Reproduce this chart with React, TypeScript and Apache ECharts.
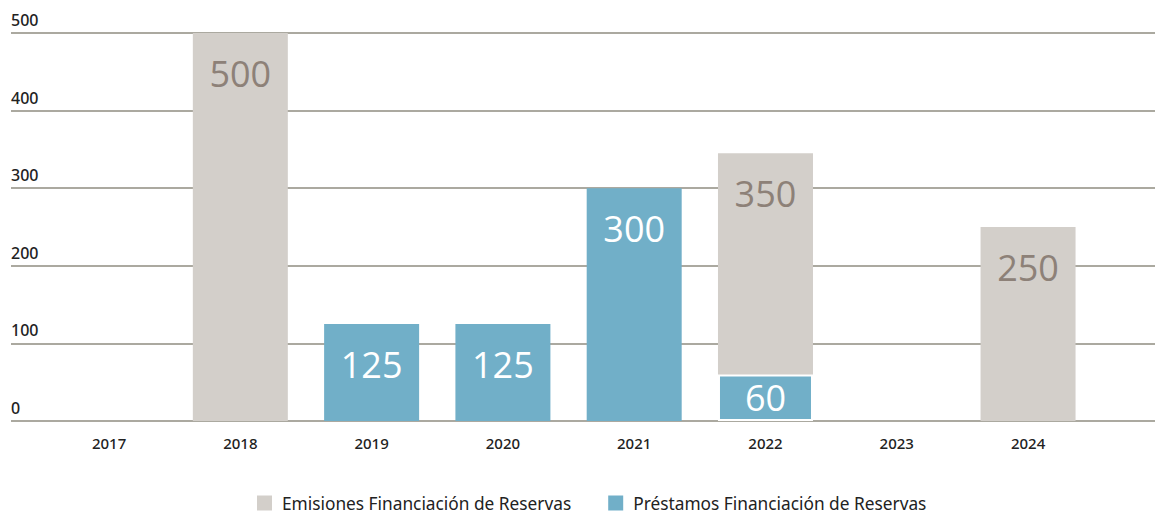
import React, { useEffect, useRef } from "react";
import * as echarts from "echarts";

const years = ["2017", "2018", "2019", "2020", "2021", "2022", "2023", "2024"];
const emisiones = [null, 500, null, null, null, 285, null, 250];
const emisionesLabels = ["", "500", "", "", "", "350", "", "250"];
const prestamos = [null, null, 125, 125, 300, 60, null, null];
const Y_MIN = 0;
const Y_MAX = 500;
const Y_STEP = 100;

const GRAY = "#d3cfca";
const BLUE = "#71afc8";
const GRID = "#8f8d80";

export default function App() {
  const ref = useRef<HTMLDivElement>(null);
  useEffect(() => {
    const chart = echarts.init(ref.current!, null, { renderer: "svg" });
    const labelFont = { fontFamily: "Open Sans", fontSize: 36, fontWeight: "normal" as const };
    chart.setOption({
      animation: false,
      grid: [
        { left: 11, right: 0, top: 33, height: 388 },
        { left: 43.4, right: 61.3, top: 33, height: 388 },
      ],
      xAxis: [
        { type: "category", gridIndex: 0, data: years, show: false },
        {
          type: "category",
          gridIndex: 1,
          data: years,
          axisLine: { show: false },
          axisTick: { show: false },
          axisLabel: {
            color: "#222",
            fontFamily: "Noto Sans",
            fontSize: 15,
            fontWeight: 500,
            margin: 14,
          },
        },
      ],
      yAxis: [
        {
          type: "value",
          gridIndex: 0,
          min: Y_MIN,
          max: Y_MAX,
          interval: Y_STEP,
          axisLine: { show: false },
          axisTick: { show: false },
          splitLine: { lineStyle: { color: GRID, width: 1.5 } },
          axisLabel: {
            margin: 0,
            align: "left",
            verticalAlign: "bottom",
            padding: [0, 0, 5, 0],
            color: "#222",
            fontFamily: "Noto Sans",
            fontSize: 16,
            fontWeight: 500,
          },
        },
        { type: "value", gridIndex: 1, min: Y_MIN, max: Y_MAX, interval: Y_STEP, show: false },
      ],
      legend: {
        top: 493,
        left: 257,
        itemWidth: 15,
        itemHeight: 15,
        itemGap: 37,
        padding: 0,
        icon: "rect",
        data: ["Emisiones Financiación de Reservas", "Préstamos Financiación de Reservas"],
        textStyle: {
          color: "#222",
          fontFamily: "Noto Sans",
          fontSize: 17.3,
          lineHeight: 20,
          padding: [0, 0, 0, 5],
        },
      },
      series: [
        {
          name: "Préstamos Financiación de Reservas",
          type: "bar",
          stack: "t",
          xAxisIndex: 1,
          yAxisIndex: 1,
          barWidth: 95,
          itemStyle: { color: BLUE },
          data: prestamos.map((v, i) => ({
            value: v,
            itemStyle: emisiones[i] != null ? { borderColor: "#fff", borderWidth: 2 } : undefined,
            label: {
              show: v != null,
              position: v != null && v < 100 ? "inside" : "insideTop",
              distance: 22,
              color: "#fff",
              ...labelFont,
            },
          })),
        },
        {
          name: "Emisiones Financiación de Reservas",
          type: "bar",
          stack: "t",
          xAxisIndex: 1,
          yAxisIndex: 1,
          barWidth: 95,
          itemStyle: { color: GRAY },
          data: emisiones.map((v, i) => ({
            value: v,
            label: {
              show: v != null,
              position: "insideTop",
              distance: 22,
              color: "#8d8178",
              formatter: () => emisionesLabels[i],
              ...labelFont,
            },
          })),
        },
      ],
    });
    return () => chart.dispose();
  }, []);
  return <div ref={ref} style={{ width: 1155, height: 516, position: "absolute", left: 0, top: 0 }} />;
}
